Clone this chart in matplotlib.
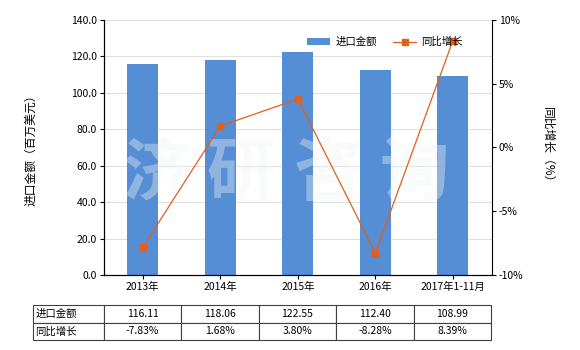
import matplotlib.pyplot as plt

plt.rcParams['font.family'] = ['Noto Sans CJK SC', 'DejaVu Sans']

# data
years = ['2013年', '2014年', '2015年', '2016年', '2017年1-11月']
amount = [116.11, 118.06, 122.55, 112.40, 108.99]
growth = [-7.83, 1.68, 3.80, -8.28, 8.39]

bar_color = '#558ED5'
line_color = '#E0601C'

fig = plt.figure(figsize=(5.8, 3.5), dpi=100)
ax = fig.add_axes([0.1793, 0.2143, 0.6685, 0.7286])
ax2 = ax.twinx()

x = range(len(years))
ax.bar(x, amount, width=0.4, color=bar_color, zorder=2, label='进口金额')
ax2.plot(x, growth, color=line_color, lw=0.9, marker='s', ms=4,
         label='同比增长', zorder=3)

# left axis
ax.set_ylim(0, 140)
ax.set_yticks(range(0, 141, 20))
ax.set_yticklabels([f'{v:.1f}' for v in range(0, 141, 20)], fontsize=7.5)
ax.set_xlim(-0.5, len(years) - 0.5)
ax.set_xticks(list(x))
ax.set_xticklabels(years, fontsize=7.5)
ax.grid(axis='y', color='#E0E0E0', lw=0.8, zorder=0)
ax.set_axisbelow(True)
ax.set_ylabel('进口金额（百万美元）', fontsize=8.5, labelpad=24)
ax.tick_params(axis='both', length=3, width=0.8, pad=2)

# right axis
ax2.set_ylim(-10, 10)
ax2.set_yticks([-10, -5, 0, 5, 10])
ax2.set_yticklabels(['-10%', '-5%', '0%', '5%', '10%'], fontsize=7.5)
ax2.set_ylabel('同比增长（%）', fontsize=8.5, rotation=270, labelpad=22)
ax2.tick_params(axis='y', length=3, width=0.8, pad=2)

for a in (ax, ax2):
    a.spines['top'].set_visible(False)
ax.spines['right'].set_visible(False)
ax2.spines['right'].set_color('black')

# legend
h1, l1 = ax.get_legend_handles_labels()
h2, l2 = ax2.get_legend_handles_labels()
ax2.legend(h1 + h2, l1 + l2, loc='upper right', bbox_to_anchor=(0.95, 0.97),
           ncol=2, frameon=False, fontsize=7.5, handlelength=2.2,
           columnspacing=1.6, handletextpad=0.5)

# watermark, drawn between bars and line
for ch, px in zip('济研咨询', [157, 241, 328, 414]):
    ax.text(px / 580, 0.5, ch, transform=fig.transFigure, fontsize=50,
            fontweight='bold', color='#F0F4F4', alpha=0.38,
            ha='center', va='center', zorder=5)

# data table under the chart
cells = [['进口金额'] + [f'{v:.2f}' for v in amount],
         ['同比增长'] + [f'{v:.2f}%' for v in growth]]
tbl = ax.table(cellText=cells, cellLoc='center',
               colWidths=[71] + [77.5] * len(years),
               bbox=[-0.1831, -0.2549, 1.1813, 0.137])
tbl.auto_set_font_size(False)
tbl.set_fontsize(7.5)
for (r, c), cell in tbl.get_celld().items():
    cell.set_edgecolor('#404040')
    cell.set_linewidth(0.8)
    if c == 0:
        cell.set_text_props(ha='left')
        cell.PAD = 0.03

fig.savefig('out.png', dpi=100)
